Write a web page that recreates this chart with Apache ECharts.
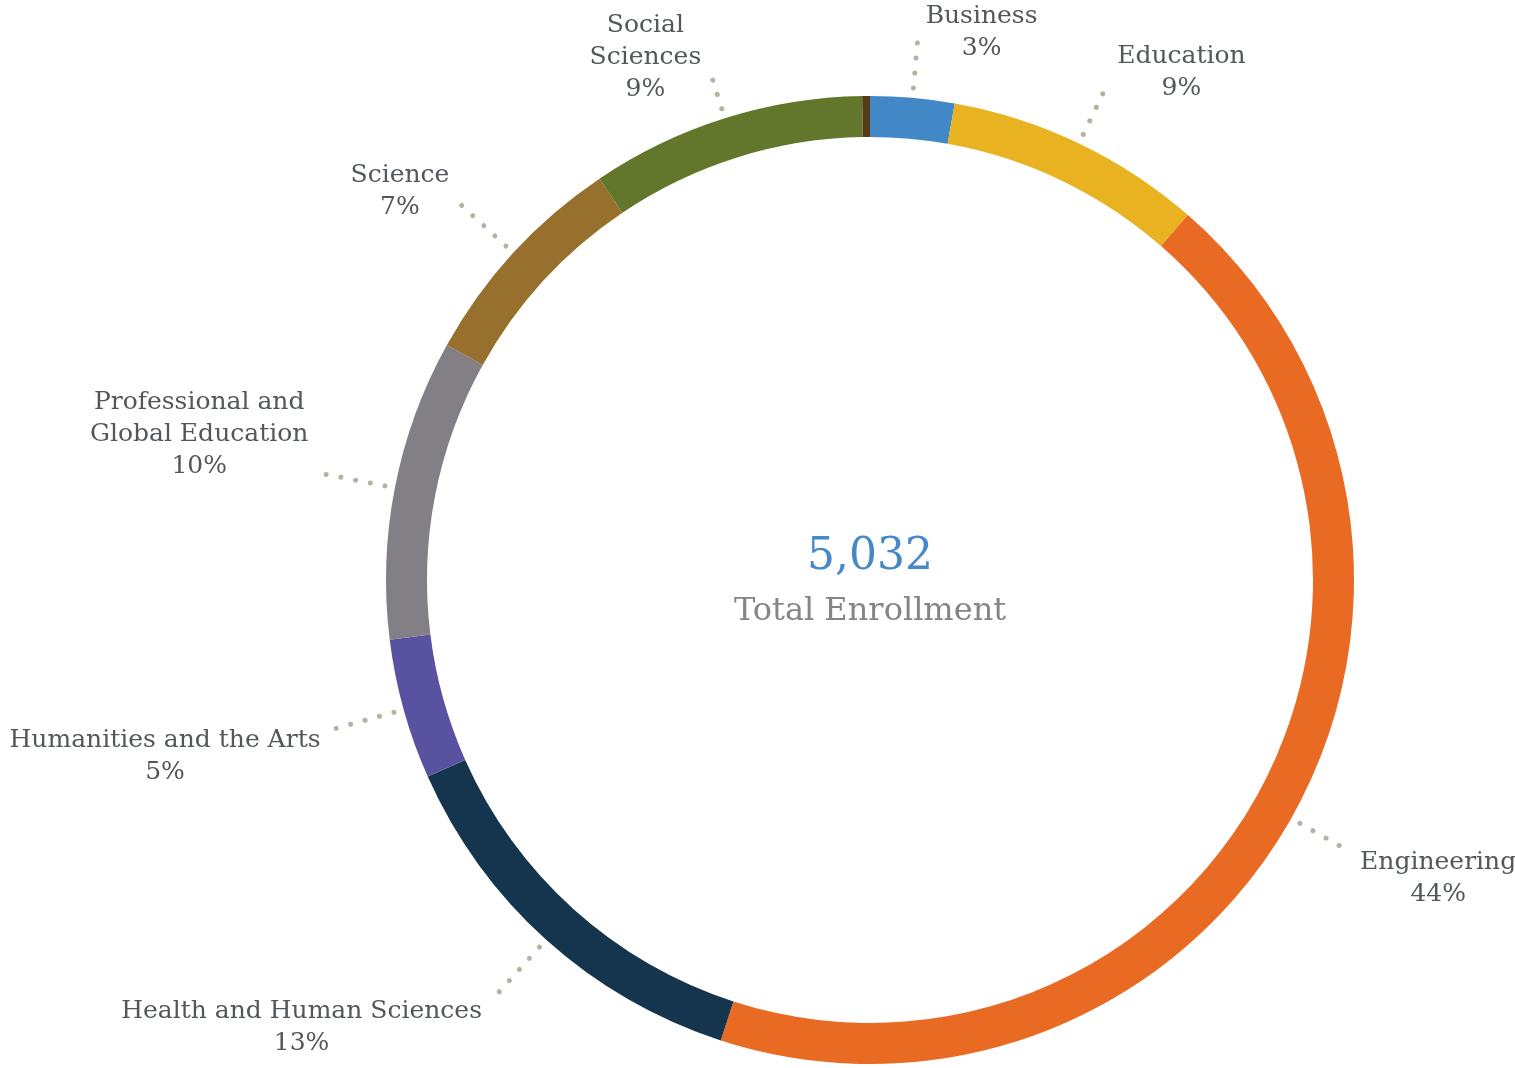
<!DOCTYPE html>
<html>
<head>
<meta charset="utf-8">
<script src="https://cdn.jsdelivr.net/npm/echarts@6/dist/echarts.min.js"></script>
<style>
  html, body { margin: 0; padding: 0; background: #ffffff; }
  #chart { width: 1515px; height: 1068px; }
</style>
</head>
<body>
<div id="chart"></div>
<script>
// ---- Data ----
var categories = [
  'Business',
  'Education',
  'Engineering',
  'Health and Human Sciences',
  'Humanities and the Arts',
  'Professional and\nGlobal Education',
  'Science',
  'Social\nSciences',
  'Other'
];
var enrollment = [141, 433, 2193, 672, 236, 505, 377, 462, 13];
var showLabel = [true, true, true, true, true, true, true, true, false];
var totalLabel = 'Total Enrollment';

// ---- Styles ----
var colors = ['#4287c6', '#e8b220', '#e96a23', '#15344e', '#5852a0', '#827f85', '#96702c', '#62772b', '#553b17'];
var leaderLength = [58, 70, 70, 84, 78, 80, 76, 52, 40];
var FONT = '"DejaVu Serif", serif';
var CX = 870, CY = 580;

var total = enrollment.reduce(function (a, b) { return a + b; }, 0);

var data = categories.map(function (name, i) {
  return {
    name: name,
    value: enrollment[i],
    itemStyle: { color: colors[i] },
    label: { show: showLabel[i] },
    labelLine: { show: showLabel[i], length: leaderLength[i] }
  };
});

var chart = echarts.init(document.getElementById('chart'), null, { renderer: 'canvas' });
chart.setOption({
  backgroundColor: '#ffffff',
  animation: false,
  graphic: [
    {
      type: 'text', x: CX, y: 558,
      style: {
        text: total.toLocaleString('en-US'), align: 'center', verticalAlign: 'middle',
        fontFamily: FONT, fontSize: 44, fill: '#4589c9'
      }
    },
    {
      type: 'text', x: CX, y: 612,
      style: {
        text: totalLabel, align: 'center', verticalAlign: 'middle',
        fontFamily: FONT, fontSize: 32, fill: '#858488'
      }
    }
  ],
  series: [{
    type: 'pie',
    center: [CX, CY],
    radius: [443, 484],
    startAngle: 90,
    clockwise: true,
    avoidLabelOverlap: false,
    itemStyle: { borderWidth: 0 },
    label: {
      show: true,
      position: 'outside',
      distanceToLabelLine: 8,
      formatter: function (p) {
        var pct = Math.round(p.value / total * 100) + '%';
        var lines = p.name.split('\n').concat([pct]);
        return lines.map(function (l) { return '{c|' + l + '}'; }).join('\n');
      },
      rich: {
        c: { align: 'center', fontFamily: FONT, fontSize: 25, color: '#53575c', lineHeight: 32 }
      }
    },
    labelLine: {
      show: true,
      length: 66,
      length2: 0,
      smooth: false,
      lineStyle: { color: '#b8b0a0', width: 5, type: [0.01, 15], cap: 'round', dashOffset: 5 }
    },
    labelLayout: function (p) {
      var pts = p.labelLinePoints;
      if (!pts || !pts.length) { return {}; }
      var end = pts[pts.length - 1];
      var h = p.labelRect.height;
      var ex = end[0] - CX, ey = end[1] - CY;
      var elev = Math.abs(ey) / Math.sqrt(ex * ex + ey * ey);
      var f = ey > 0 ? 0.05 : 0.63 + 0.45 * (1 - elev) * (1 - elev);
      var top = end[1] - f * h;
      return { dy: top - p.labelRect.y };
    },
    data: data
  }]
});
</script>
</body>
</html>
